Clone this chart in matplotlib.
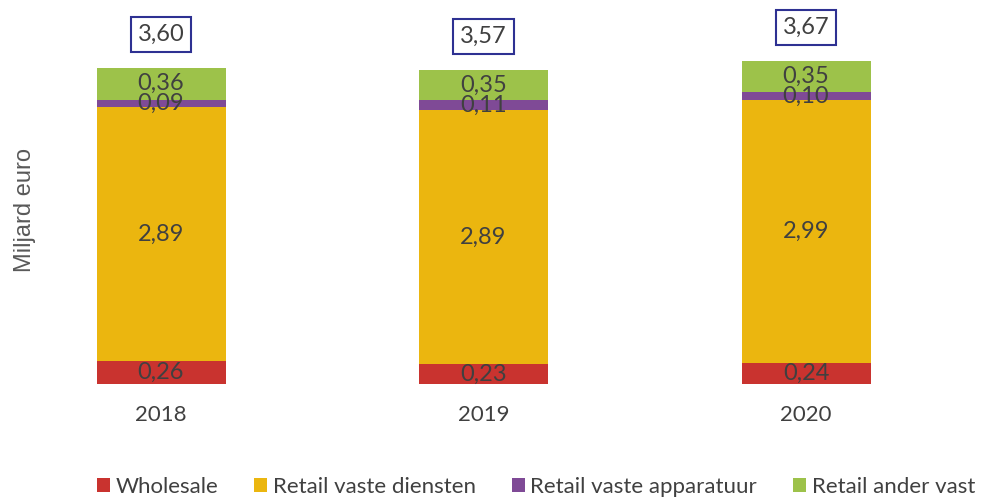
import matplotlib.pyplot as plt
import numpy as np

plt.rcParams['font.family'] = ['Lato', 'DejaVu Sans']

years = ['2018', '2019', '2020']
series_names = ['Wholesale', 'Retail vaste diensten', 'Retail vaste apparatuur', 'Retail ander vast']
wholesale = [0.26, 0.23, 0.24]
retail_diensten = [2.89, 2.89, 2.99]
retail_apparatuur = [0.09, 0.11, 0.10]
retail_ander = [0.36, 0.35, 0.35]
totals = [3.60, 3.57, 3.67]

colors = ['#C9332F', '#EBB60F', '#7F4A96', '#9DC24A']
text_col = '#404040'

fig = plt.figure(figsize=(9.82, 4.98), dpi=100)
ax = fig.add_axes([60 / 982, 114 / 498, 900 / 982, 384 / 498])

x = np.arange(len(years))
bottom = np.zeros(len(years))
handles = []
for vals, name, col in zip([wholesale, retail_diensten, retail_apparatuur, retail_ander], series_names, colors):
    vals = np.array(vals)
    b = ax.bar(x, vals, width=0.4, bottom=bottom, color=col, label=name)
    handles.append(b)
    for xi, v, bt in zip(x, vals, bottom):
        ax.text(xi, bt + v / 2, f'{v:.2f}'.replace('.', ','), ha='center', va='center',
                fontsize=17, color=text_col)
    bottom = bottom + vals

# totals in boxes above the bars
for xi, top, t in zip(x, bottom, totals):
    ax.text(xi, top + 0.38, f'{t:.2f}'.replace('.', ','), ha='center', va='center',
            fontsize=17, color=text_col,
            bbox=dict(boxstyle='square,pad=0.3', fc='white', ec='#2E3192', lw=1.5))

ax.set_xlim((60 - 161) / 322.5, (960 - 161) / 322.5)
ax.set_ylim(0, 384 / 87.8)
ax.set_xticks(x)
ax.set_xticklabels(years, fontsize=16, color=text_col)
ax.tick_params(axis='x', length=0, pad=15)
ax.set_yticks([])
for s in ax.spines.values():
    s.set_visible(False)

fig.text(25 / 982, 1 - 210 / 498, 'Miljard euro', rotation=90, ha='center', va='center',
         fontsize=17, color='#595959', family='Liberation Sans')

fig.legend(handles=handles, labels=series_names, loc='center', ncol=4,
           bbox_to_anchor=(536 / 982, 1 - 487 / 498), frameon=False, fontsize=16,
           handlelength=0.6, handleheight=0.6, handletextpad=0.25, columnspacing=1.6,
           borderpad=0, labelcolor=text_col)

fig.savefig('out.png', dpi=100)
